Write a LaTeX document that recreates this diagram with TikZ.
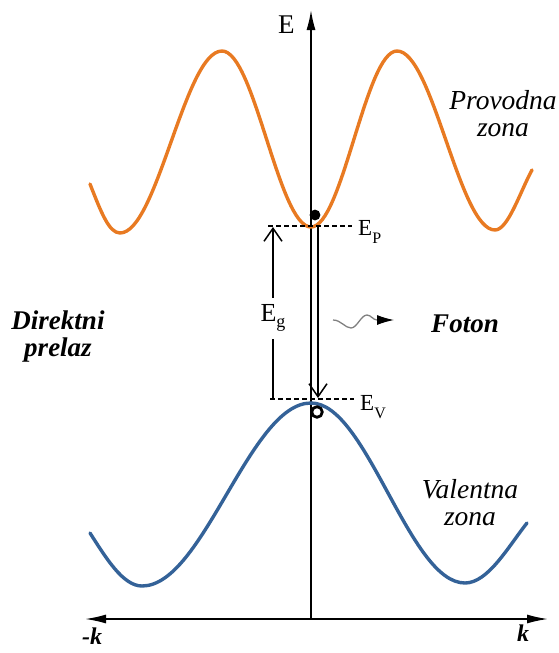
\documentclass[tikz,border=0pt]{standalone}
\usepackage{fontspec}
\setmainfont{Liberation Serif}
\usetikzlibrary{arrows.meta}
\definecolor{condorange}{RGB}{232,122,34}
\definecolor{valblue}{RGB}{52,98,152}

\begin{document}
\begin{tikzpicture}[x=1pt,y=-1pt,line join=round,
  band/.style={line width=3.4pt,line cap=round},
  axis/.style={line width=1.6pt},
  lvl/.style={line width=1.2pt,dash pattern=on 5pt off 3pt},
  trans/.style={line width=1.5pt,-{Straight Barb[length=13pt,width=18pt,line width=1.5pt]}},
  zonetxt/.style={font=\fontsize{27.5}{27}\selectfont\itshape,align=center,inner sep=0pt},
  boldtxt/.style={font=\fontsize{27}{27}\selectfont\bfseries\itshape,align=center,inner sep=0pt},
  lbl/.style={font=\fontsize{23}{24}\selectfont,inner sep=0pt}]
  \useasboundingbox (0,0) rectangle (559,653);
  % axes
  \coordinate (O) at (311,619);
  \coordinate (Etop) at (311,10);
  \coordinate (kL) at (85,619);
  \coordinate (kR) at (548,619);
  \draw[axis,-{Latex[length=20pt,width=9pt]}] (O) -- (Etop);
  \draw[axis,{Latex[length=21pt,width=9pt]}-{Latex[length=21pt,width=9pt]}] (kL) -- (kR);
  \node[lbl,font=\fontsize{27}{27}\selectfont,anchor=base west] (Elab) at (278,33) {E};
  \node[font=\fontsize{24}{24}\selectfont\bfseries\itshape,inner sep=0pt,anchor=base west] (mk) at (82,644) {-k};
  \node[font=\fontsize{24}{24}\selectfont\bfseries\itshape,inner sep=0pt,anchor=base west] (pk) at (517,641) {k};
  % conduction band
  \draw[band,condorange] (90,184) .. controls (101,212) and (109,233) .. (120,233)
    cos (171,142) sin (222,51) cos (266.5,139) sin (311,227)
    cos (354,139) sin (397,51) cos (446,140.5) sin (495,230)
    .. controls (508,230) and (520,192) .. (532,170);
  % valence band
  \draw[band,valblue] (90,533) .. controls (106,558) and (123,586) .. (142,586)
    cos (226.5,494.5) sin (311,403) cos (388,493) sin (465,583)
    .. controls (488,583) and (508,547) .. (527,523);
  % levels
  \coordinate (PL) at (268,226);
  \coordinate (PR) at (352,226);
  \coordinate (VL) at (270,399);
  \coordinate (VR) at (354,399);
  \draw[lvl] (PL) -- (PR);
  \draw[lvl] (VL) -- (VR);
  \node[lbl,anchor=base west] (EP) at (358,235) {E\raisebox{-8pt}{\fontsize{16}{16}\selectfont P}};
  \node[lbl,anchor=base west] (EV) at (360,410) {E\raisebox{-8pt}{\fontsize{16}{16}\selectfont V}};
  % gap
  \coordinate (gB) at (273,399);
  \coordinate (gT) at (273,227);
  \draw[trans] (gB) -- node[lbl,font=\fontsize{26}{26}\selectfont,pos=0.47,fill=white,inner xsep=1pt,inner ysep=7pt] (Eg) {E\raisebox{-6pt}{\fontsize{18}{18}\selectfont g}} (gT);
  % transition
  \coordinate (tT) at (318,226);
  \coordinate (tB) at (318,398);
  \draw[trans] (tT) -- (tB);
  \fill (315,215) circle (5.4pt);
  \draw[line width=2.8pt,fill=white] (317,412) circle (5.3pt);
  % photon
  \coordinate (phA) at (333,320);
  \coordinate (phB) at (377,320);
  \coordinate (phC) at (394,320);
  \draw[gray,line width=1.3pt] (phA) .. controls (341,320) and (345,328) .. (351,328)
    .. controls (357,328) and (361,315) .. (367,315) .. controls (371,315) and (373,320) .. (phB);
  \draw[line width=1.2pt,-{Latex[length=17pt,width=10pt]}] (phB) -- (phC);
  % labels
  \node[zonetxt] (prov) at (503,114) {Provodna\\zona};
  \node[zonetxt] (val) at (470,503) {Valentna\\zona};
  \node[boldtxt] (dir) at (58,337) {Direktni\\prelaz};
  \node[boldtxt,anchor=base] (fot) at (465,332) {Foton};
\end{tikzpicture}
\end{document}
